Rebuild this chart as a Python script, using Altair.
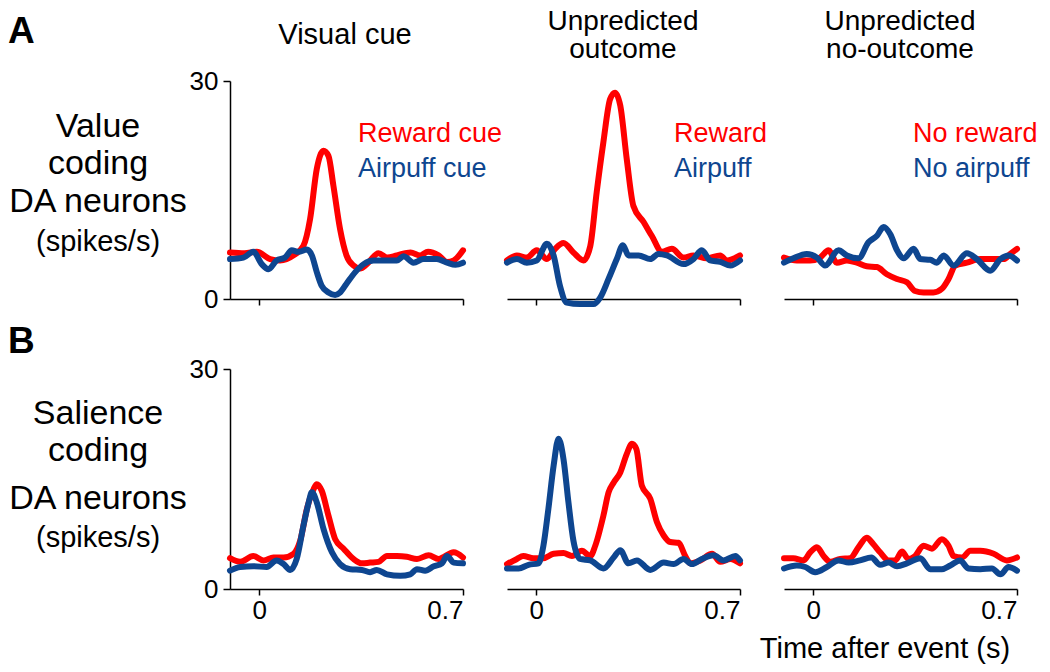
import altair as alt
import pandas as pd

RED = "#FF0000"
BLUE = "#0E4690"
FONT = "Liberation Sans"

# ---------------- data (time in s, firing rate in spikes/s) ----------------
# A: value coding, visual cue
T_A1_R = [-0.1, -0.05, -0.008, 0.038, 0.072, 0.118, 0.152, 0.175, 0.198, 0.221, 0.238, 0.255, 0.278, 0.30, 0.324,
          0.347, 0.37, 0.41, 0.44, 0.473, 0.52, 0.553, 0.58, 0.616, 0.645, 0.668, 0.7]
Y_A1_R = [6.4, 6.3, 6.5, 5.5, 5.3, 6.0, 7.3, 11.0, 17.9, 20.4, 19.7, 15.6, 9.6, 6.0, 4.6,
          4.2, 4.8, 6.3, 5.7, 6.0, 6.4, 6.0, 6.5, 6.0, 5.1, 5.3, 6.7]
T_A1_B = [-0.1, -0.054, -0.02, 0.009, 0.032, 0.06, 0.089, 0.112, 0.135, 0.164, 0.181, 0.198, 0.215, 0.238, 0.261,
          0.278, 0.30, 0.33, 0.359, 0.393, 0.44, 0.473, 0.496, 0.53, 0.565, 0.61, 0.645, 0.674, 0.7]
Y_A1_B = [5.5, 5.7, 6.5, 4.8, 4.1, 5.3, 5.7, 6.7, 6.5, 6.8, 6.0, 3.7, 1.8, 0.9, 0.55,
          0.9, 2.1, 3.7, 4.8, 5.3, 5.3, 5.3, 5.9, 5.0, 5.5, 5.5, 5.0, 4.7, 5.0]

# A: value coding, unpredicted outcome
T_A2_R = [-0.1, -0.066, -0.032, 0.002, 0.037, 0.065, 0.094, 0.128, 0.163, 0.186, 0.208, 0.231, 0.254, 0.271, 0.289,
          0.311, 0.334, 0.369, 0.397, 0.432, 0.466, 0.506, 0.54, 0.586, 0.632, 0.655, 0.7]
Y_A2_R = [5.3, 6.0, 5.7, 6.7, 5.5, 6.9, 7.7, 6.4, 5.3, 7.3, 14.7, 21.6, 27.5, 28.4, 26.6,
          19.3, 12.8, 10.6, 8.7, 6.5, 6.9, 5.7, 6.0, 5.6, 6.0, 5.3, 6.0]
T_A2_B = [-0.1, -0.066, -0.032, 0.002, 0.037, 0.06, 0.082, 0.105, 0.151, 0.197, 0.22, 0.249, 0.277, 0.298, 0.317,
          0.352, 0.392, 0.42, 0.449, 0.506, 0.54, 0.569, 0.598, 0.632, 0.667, 0.7]
Y_A2_B = [5.0, 5.5, 5.0, 5.3, 7.6, 6.0, 1.8, -0.5, -0.7, -0.7, 0.2, 2.8, 5.5, 7.4, 6.0,
          6.0, 5.5, 6.2, 6.0, 4.8, 5.5, 6.7, 5.3, 5.1, 4.6, 5.3]

# A: value coding, unpredicted no-outcome
T_A3_R = [-0.1, -0.056, -0.01, 0.024, 0.053, 0.081, 0.116, 0.15, 0.184, 0.219, 0.253, 0.288, 0.322, 0.35, 0.379,
          0.413, 0.442, 0.465, 0.488, 0.528, 0.574, 0.62, 0.654, 0.677, 0.7]
Y_A3_R = [5.7, 5.3, 5.3, 5.7, 6.7, 5.0, 5.3, 5.0, 4.5, 4.4, 3.4, 2.75, 2.3, 1.1, 0.9,
          0.9, 1.4, 2.75, 4.6, 5.0, 5.5, 5.5, 5.5, 6.2, 6.9]
T_A3_B = [-0.1, -0.068, -0.022, 0.013, 0.041, 0.087, 0.116, 0.156, 0.19, 0.219, 0.242, 0.265, 0.288, 0.311, 0.345,
          0.368, 0.402, 0.425, 0.448, 0.482, 0.528, 0.562, 0.608, 0.643, 0.671, 0.7]
Y_A3_B = [5.0, 5.6, 6.2, 5.7, 4.6, 6.7, 6.0, 5.6, 7.8, 8.7, 9.9, 8.9, 6.7, 5.6, 6.9,
          5.5, 5.4, 5.0, 6.0, 4.6, 6.3, 5.5, 3.9, 5.5, 6.0, 5.3]

# B: salience coding, visual cue
T_B1_R = [-0.1, -0.065, -0.02, 0.015, 0.049, 0.084, 0.118, 0.141, 0.164, 0.187, 0.198, 0.215, 0.238, 0.261, 0.29,
          0.324, 0.353, 0.381, 0.41, 0.439, 0.473, 0.507, 0.542, 0.582, 0.616, 0.668, 0.7]
Y_B1_R = [4.2, 3.7, 4.5, 3.9, 4.3, 4.3, 4.8, 6.6, 10.9, 13.6, 14.3, 13.4, 10.0, 6.8, 5.5,
          4.1, 3.5, 3.6, 3.7, 4.5, 4.5, 4.4, 4.1, 4.6, 4.1, 5.0, 4.3]
T_B1_B = [-0.1, -0.065, -0.02, 0.026, 0.06, 0.084, 0.107, 0.129, 0.152, 0.17, 0.181, 0.198, 0.221, 0.25, 0.278,
          0.313, 0.353, 0.381, 0.404, 0.439, 0.485, 0.519, 0.542, 0.57, 0.6, 0.628, 0.645, 0.668, 0.7]
Y_B1_B = [2.5, 3.0, 3.1, 3.0, 3.9, 3.4, 2.6, 4.1, 8.6, 11.8, 13.2, 11.8, 8.2, 5.0, 3.4,
          2.7, 2.6, 2.3, 2.6, 2.0, 1.8, 2.0, 2.7, 2.5, 3.1, 3.5, 4.5, 3.6, 3.5]

# B: salience coding, unpredicted outcome
T_B2_R = [-0.1, -0.066, -0.044, -0.009, 0.025, 0.06, 0.094, 0.123, 0.157, 0.186, 0.203, 0.231, 0.249, 0.266, 0.289,
          0.311, 0.329, 0.344, 0.363, 0.392, 0.415, 0.438, 0.461, 0.489, 0.512, 0.529, 0.564, 0.604, 0.632, 0.667, 0.7]
Y_B2_R = [3.4, 4.1, 4.5, 4.2, 4.2, 4.8, 4.9, 4.5, 5.2, 4.5, 5.9, 10.0, 13.2, 14.5, 15.9,
          18.4, 19.8, 19.1, 14.1, 12.3, 9.1, 7.3, 6.4, 6.3, 4.5, 3.5, 3.9, 4.8, 3.7, 4.1, 3.5]
T_B2_B = [-0.1, -0.06, -0.026, 0.008, 0.025, 0.042, 0.06, 0.077, 0.094, 0.111, 0.128, 0.151, 0.186, 0.231, 0.266,
          0.289, 0.317, 0.346, 0.392, 0.438, 0.472, 0.506, 0.535, 0.569, 0.609, 0.644, 0.684, 0.7]
Y_B2_B = [2.8, 2.8, 3.3, 3.5, 5.9, 10.9, 16.8, 20.5, 17.7, 11.8, 6.6, 4.1, 3.9, 2.8, 4.3,
          5.3, 3.5, 3.9, 2.6, 3.6, 3.4, 4.1, 3.4, 4.1, 4.6, 3.9, 4.5, 3.9]

# B: salience coding, unpredicted no-outcome
T_B3_R = [-0.1, -0.068, -0.033, -0.01, 0.013, 0.036, 0.059, 0.093, 0.127, 0.156, 0.184, 0.207, 0.23, 0.259, 0.282,
          0.305, 0.327, 0.35, 0.379, 0.408, 0.442, 0.465, 0.482, 0.511, 0.54, 0.574, 0.62, 0.665, 0.7]
Y_B3_R = [4.2, 4.2, 3.9, 5.0, 5.7, 4.5, 3.7, 4.1, 4.2, 5.7, 7.0, 6.1, 5.0, 3.9, 3.9,
          5.1, 4.1, 4.5, 5.9, 5.5, 6.8, 5.9, 4.5, 4.3, 5.2, 5.2, 4.8, 3.9, 4.3]
T_B3_B = [-0.1, -0.056, -0.027, 0.007, 0.047, 0.087, 0.122, 0.161, 0.2, 0.23, 0.259, 0.288, 0.322, 0.368, 0.402,
          0.442, 0.471, 0.505, 0.533, 0.574, 0.614, 0.643, 0.671, 0.7]
Y_B3_B = [2.8, 3.2, 3.0, 2.3, 3.0, 3.9, 3.6, 3.9, 4.3, 3.3, 3.6, 3.1, 3.5, 4.2, 2.7,
          2.7, 3.2, 3.9, 2.8, 2.7, 2.8, 2.0, 3.0, 2.5]

X_DOMAIN = [-0.1, 0.7]
X_TICKS = [0, 0.7]
Y_DOMAIN = [0, 30]
Y_TICKS = [0, 30]

W = 233
H_TOP = 218
H_BOT = 220


def label(txt, x, y, size, color="black", weight="normal", align="center"):
    return alt.Chart(pd.DataFrame({"k": [0]})).mark_text(
        text=txt, fontSize=size, font=FONT, color=color, fontWeight=weight,
        align=align, baseline="alphabetic"
    ).encode(x=alt.value(x), y=alt.value(y))


def panel(tr, yr, tb, yb, top, first, height, texts):
    xaxis = alt.Axis(values=X_TICKS, labels=not top, format="~g", title=None, grid=False,
                     tickSize=6, labelPadding=2)
    yaxis = (alt.Axis(values=Y_TICKS, title=None, grid=False, tickSize=7, labelPadding=5)
             if first else None)
    xs = alt.Scale(domain=X_DOMAIN, nice=False, zero=False)
    ys = alt.Scale(domain=Y_DOMAIN, nice=False, zero=False)
    dr = pd.DataFrame({"t": tr, "v": yr})
    db = pd.DataFrame({"t": tb, "v": yb})
    common = dict(strokeWidth=6, interpolate="monotone", strokeCap="round", strokeJoin="round")
    red = alt.Chart(dr).mark_line(color=RED, **common).encode(
        x=alt.X("t:Q", scale=xs, axis=xaxis),
        y=alt.Y("v:Q", scale=ys, axis=yaxis),
    )
    blue = alt.Chart(db).mark_line(color=BLUE, **common).encode(
        x=alt.X("t:Q", scale=xs, axis=xaxis),
        y=alt.Y("v:Q", scale=ys, axis=yaxis),
    )
    return alt.layer(red, blue, *texts).properties(width=W, height=height)


# text positions are relative to each panel's top-left corner
p_a1 = panel(T_A1_R, Y_A1_R, T_A1_B, Y_A1_B, True, True, H_TOP, [
    label("A", -222, -38, 37, weight="bold", align="left"),
    label("Value", -132, 56, 34),
    label("coding", -132, 93, 34),
    label("DA neurons", -132, 131, 34),
    label("(spikes/s)", -132, 170, 29),
    label("Visual cue", 115, -37, 29),
    label("Reward cue", 128, 61, 27, color=RED, align="left"),
    label("Airpuff cue", 128, 96, 27, color=BLUE, align="left"),
])
p_a2 = panel(T_A2_R, Y_A2_R, T_A2_B, Y_A2_B, True, False, H_TOP, [
    label("Unpredicted", 116, -51, 28),
    label("outcome", 116, -23, 28),
    label("Reward", 167, 61, 27, color=RED, align="left"),
    label("Airpuff", 167, 96, 27, color=BLUE, align="left"),
])
p_a3 = panel(T_A3_R, Y_A3_R, T_A3_B, Y_A3_B, True, False, H_TOP, [
    label("Unpredicted", 116, -51, 28),
    label("no-outcome", 116, -23, 28),
    label("No reward", 129, 61, 27, color=RED, align="left"),
    label("No airpuff", 129, 96, 27, color=BLUE, align="left"),
])
p_b1 = panel(T_B1_R, Y_B1_R, T_B1_B, Y_B1_B, False, True, H_BOT, [
    label("B", -222, -16, 37, weight="bold", align="left"),
    label("Salience", -132, 55, 34),
    label("coding", -132, 92, 34),
    label("DA neurons", -132, 140, 34),
    label("(spikes/s)", -132, 178, 29),
])
p_b2 = panel(T_B2_R, Y_B2_R, T_B2_B, Y_B2_B, False, False, H_BOT, [])
p_b3 = panel(T_B3_R, Y_B3_R, T_B3_B, Y_B3_B, False, False, H_BOT, [
    label("Time after event (s)", 101, 289, 29),
])

chart = alt.concat(
    p_a1, p_a2, p_a3, p_b1, p_b2, p_b3,
    columns=3, spacing={"row": 70, "column": 44}, bounds="flush"
).properties(
    padding=0
).configure_view(stroke=None).configure_axis(
    domainColor="black", tickColor="black", labelColor="black",
    labelFont=FONT, labelFontSize=26, domainWidth=1.5, tickWidth=1.5,
)

chart.save("out.html", embed_options={"renderer": "svg", "actions": False})
